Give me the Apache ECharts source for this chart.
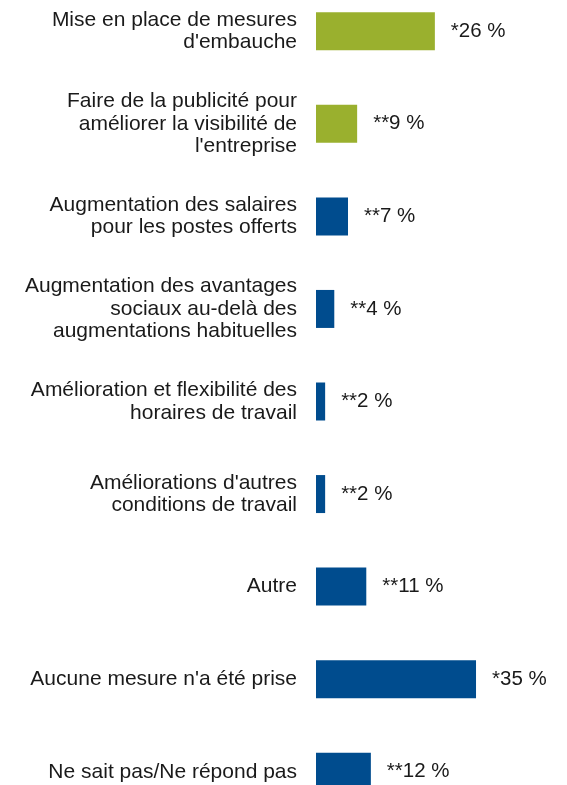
<!DOCTYPE html>
<html><head><meta charset="utf-8">
<script src="https://cdn.jsdelivr.net/npm/echarts@6/dist/echarts.min.js"></script>
<style>html,body{margin:0;padding:0;background:#fff;overflow:hidden;width:567px;height:785px;position:relative}#c{position:absolute;left:0;top:-15px;width:567px;height:833px}</style>
</head><body><div id="c"></div>
<script>
var categories = [
  "Mise en place de mesures\nd'embauche",
  "Faire de la publicité pour\naméliorer la visibilité de\nl'entreprise",
  "Augmentation des salaires\npour les postes offerts",
  "Augmentation des avantages\nsociaux au-delà des\naugmentations habituelles",
  "Amélioration et flexibilité des\nhoraires de travail",
  "Améliorations d'autres\nconditions de travail",
  "Autre",
  "Aucune mesure n'a été prise",
  "Ne sait pas/Ne répond pas"
];
var values = [26, 9, 7, 4, 2, 2, 11, 35, 12];
var valueLabels = ["*26 %", "**9 %", "**7 %", "**4 %", "**2 %", "**2 %", "**11 %", "*35 %", "**12 %"];
var barColors = ["#9AB02E", "#9AB02E", "#004C8E", "#004C8E", "#004C8E", "#004C8E", "#004C8E", "#004C8E", "#004C8E"];

var chart = echarts.init(document.getElementById('c'), null, {renderer: 'canvas'});
chart.setOption({
  animation: false,
  grid: {left: 316, top: 0, width: 228.6, height: 833},
  xAxis: {type: 'value', min: 0, max: 50, show: false},
  yAxis: {
    type: 'category', inverse: true, data: categories,
    axisLine: {show: false}, axisTick: {show: false},
    axisLabel: {margin: 19, fontFamily: 'Liberation Sans, Arial', fontSize: 21, color: '#1a1a1a', lineHeight: 22.5, align: 'right'}
  },
  series: [{
    type: 'bar', barWidth: 38,
    data: values.map(function(v, i){ return {value: v, itemStyle: {color: barColors[i]}}; }),
    label: {
      show: true, position: 'right', distance: 16,
      fontFamily: 'Liberation Sans, Arial', fontSize: 20.5, color: '#1a1a1a',
      formatter: function(p){ return valueLabels[p.dataIndex]; }
    }
  }]
});
</script></body></html>
